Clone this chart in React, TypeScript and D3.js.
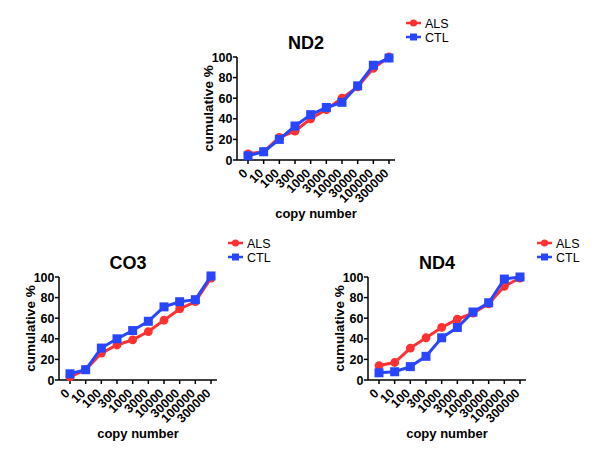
import React from "react";
import * as d3 from "d3";

const categories = ["0", "10", "100", "300", "1000", "3000", "10000", "30000", "100000", "300000"];
const seriesNames = ["ALS", "CTL"];
const yTicks = [0, 20, 40, 60, 80, 100];

const nd2ALS = [6, 8, 22, 28, 40, 49, 60, 71, 89, 100];
const nd2CTL = [4, 8, 20, 33, 44, 51, 56, 72, 92, 99];
const co3ALS = [3, 10, 26, 34, 39, 47, 58, 69, 76, 99];
const co3CTL = [6, 10, 31, 40, 48, 57, 71, 76, 78, 101];
const nd4ALS = [14, 17, 31, 41, 51, 59, 65, 74, 91, 99];
const nd4CTL = [7, 8, 13, 23, 41, 51, 66, 75, 98, 100];

const RED = "#ff3131";
const BLUE = "#2846ff";
const FONT = "'Liberation Sans', Arial, sans-serif";

type PanelProps = { title: string; als: number[]; ctl: number[]; ax: number; top: number; bottom: number };

function Panel({ title, als, ctl, ax, top, bottom }: PanelProps) {
  const x = d3.scalePoint<string>().domain(categories).range([ax + 11, ax + 152]);
  const y = d3.scaleLinear().domain([0, 100]).range([bottom, top]);
  const axisEnd = ax + 158;
  const line = d3
    .line<number>()
    .x((_, i) => x(categories[i]) as number)
    .y((d) => y(d));
  const series = [
    { name: seriesNames[0], data: als, color: RED, shape: "circle" },
    { name: seriesNames[1], data: ctl, color: BLUE, shape: "square" },
  ];
  const cx = (ax + axisEnd) / 2;
  return (
    <g fontFamily={FONT}>
      <text x={ax + 69} y={top - 8.5} textAnchor="middle" fontSize={18} fontWeight="bold">
        {title}
      </text>
      {/* y axis */}
      <line x1={ax} x2={ax} y1={top} y2={bottom} stroke="#000" strokeWidth={1.5} />
      {yTicks.map((t) => (
        <g key={t}>
          <line x1={ax - 4} x2={ax} y1={y(t)} y2={y(t)} stroke="#000" strokeWidth={1.5} />
          <text x={ax - 4.5} y={y(t)} dy="0.36em" textAnchor="end" fontSize={12.5} fontWeight="bold">
            {t}
          </text>
        </g>
      ))}
      {/* x axis */}
      <line x1={ax} x2={axisEnd} y1={bottom} y2={bottom} stroke="#000" strokeWidth={1.5} />
      {categories.map((c) => (
        <g key={c}>
          <line x1={x(c)} x2={x(c)} y1={bottom} y2={bottom + 4} stroke="#000" strokeWidth={1.5} />
          <text
            transform={`translate(${(x(c) as number) + 0.5},${bottom + 14}) rotate(-45)`}
            textAnchor="end"
            fontSize={12.5}
            fontWeight="bold"
          >
            {c}
          </text>
        </g>
      ))}
      <text
        transform={`translate(${ax - 24},${(top + bottom) / 2}) rotate(-90)`}
        textAnchor="middle"
        fontSize={13.5}
        fontWeight="bold"
      >
        cumulative %
      </text>
      <text x={cx} y={bottom + 58} textAnchor="middle" fontSize={13} fontWeight="bold">
        copy number
      </text>
      {series.map((s) => (
        <g key={s.name}>
          <path d={line(s.data) || ""} fill="none" stroke={s.color} strokeWidth={3} />
          {s.data.map((v, i) =>
            s.shape === "circle" ? (
              <circle key={i} cx={x(categories[i])} cy={y(v)} r={4.4} fill={s.color} />
            ) : (
              <rect key={i} x={(x(categories[i]) as number) - 4.5} y={y(v) - 4.5} width={9} height={9} fill={s.color} />
            )
          )}
        </g>
      ))}
      {/* legend */}
      {series.map((s, i) => {
        const ly = top - 34 + i * 14;
        const lx = ax + 169;
        return (
          <g key={s.name}>
            <line x1={lx} x2={lx + 15} y1={ly} y2={ly} stroke={s.color} strokeWidth={2.5} />
            {s.shape === "circle" ? (
              <circle cx={lx + 7.5} cy={ly} r={3.6} fill={s.color} />
            ) : (
              <rect x={lx + 4} y={ly - 3.5} width={7} height={7} fill={s.color} />
            )}
            <text x={lx + 19} y={ly} dy="0.36em" fontSize={12.5}>
              {s.name}
            </text>
          </g>
        );
      })}
    </g>
  );
}

export default function App() {
  return (
    <svg width={600} height={460} style={{ position: "absolute", left: 0, top: 0, background: "#fff" }}>
      <rect width={600} height={460} fill="#fff" />
      <Panel title="ND2" als={nd2ALS} ctl={nd2CTL} ax={237} top={57} bottom={160} />
      <Panel title="CO3" als={co3ALS} ctl={co3CTL} ax={59} top={277} bottom={380} />
      <Panel title="ND4" als={nd4ALS} ctl={nd4CTL} ax={368} top={277} bottom={380} />
    </svg>
  );
}
